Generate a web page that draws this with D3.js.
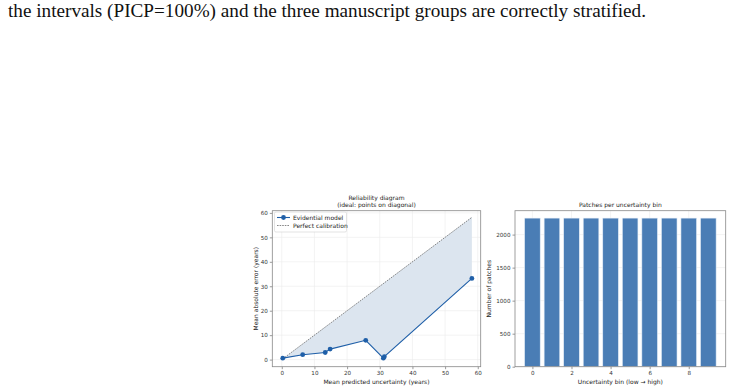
<!DOCTYPE html>
<html lang="en">
<head>
  <meta charset="UTF-8">
  <title>Reliability diagram</title>
  <script src="https://d3js.org/d3.v7.min.js"></script>
  <style>
    body { margin: 0; background: #fff; }
    svg { display: block; }
    .tick text { font-family: "DejaVu Sans", sans-serif; font-size: 5.6px; fill: #333; }
    .lbl { font-family: "DejaVu Sans", sans-serif; font-size: 6px; fill: #222; }
    .top { font-family: "Liberation Serif", "Times New Roman", serif; font-size: 19.2px; fill: #111; }
  </style>
</head>
<body>
  <svg id="fig" width="732" height="391"></svg>
  <script>
    // data
    const predUnc = [0.3, 6.4, 13.3, 14.8, 25.7, 31.1, 31.4, 58.2];
    const meanErr = [0.6, 2.0, 2.9, 4.3, 7.9, 0.6, 1.2, 33.2];
    const bins = [0, 1, 2, 3, 4, 5, 6, 7, 8, 9];
    const binCounts = [2250, 2250, 2250, 2250, 2250, 2250, 2250, 2250, 2250, 2250];
    const relXTicks = [0, 10, 20, 30, 40, 50, 60];
    const relYTicks = [0, 10, 20, 30, 40, 50, 60];
    const barXTicks = [0, 2, 4, 6, 8];
    const barYTicks = [0, 500, 1000, 1500, 2000];

    const svg = d3.select("#fig");
    const lineBlue = "#1f5fa8";

    svg.append("text")
      .attr("class", "top")
      .attr("x", 8).attr("y", 17)
      .text("the intervals (PICP=100%) and the three manuscript groups are correctly stratified.");

    function frame(g, x, y, xt, yt, box) {
      // grid
      g.append("g").selectAll("line").data(xt).join("line")
        .attr("x1", d => x(d)).attr("x2", d => x(d))
        .attr("y1", box.top).attr("y2", box.bottom)
        .attr("stroke", "#ebebeb").attr("stroke-width", 0.6);
      g.append("g").selectAll("line").data(yt).join("line")
        .attr("x1", box.left).attr("x2", box.right)
        .attr("y1", d => y(d)).attr("y2", d => y(d))
        .attr("stroke", "#ebebeb").attr("stroke-width", 0.6);
    }

    function axes(g, x, y, xt, yt, box) {
      g.append("g").attr("transform", `translate(0,${box.bottom})`)
        .call(d3.axisBottom(x).tickValues(xt).tickFormat(d3.format("d")).tickSize(2.5).tickPadding(2).tickSizeOuter(0))
        .call(a => a.select(".domain").remove())
        .call(a => a.selectAll("line").attr("stroke", "#555").attr("stroke-width", 0.6));
      g.append("g").attr("transform", `translate(${box.left},0)`)
        .call(d3.axisLeft(y).tickValues(yt).tickFormat(d3.format("d")).tickSize(2.5).tickPadding(2).tickSizeOuter(0))
        .call(a => a.select(".domain").remove())
        .call(a => a.selectAll("line").attr("stroke", "#555").attr("stroke-width", 0.6));
      g.append("rect")
        .attr("x", box.left).attr("y", box.top)
        .attr("width", box.right - box.left).attr("height", box.bottom - box.top)
        .attr("fill", "none").attr("stroke", "#888").attr("stroke-width", 0.8);
    }

    // ---------- reliability diagram ----------
    const b1 = { left: 272.3, right: 480.7, top: 210.7, bottom: 366.7 };
    const x1 = d3.scaleLinear().domain([-2.9, 60.9]).range([b1.left, b1.right]);
    const y1 = d3.scaleLinear().domain([-2.9, 60.9]).range([b1.bottom, b1.top]);
    const g1 = svg.append("g");
    frame(g1, x1, y1, relXTicks, relYTicks, b1);

    const pts = predUnc.map((u, i) => ({ u: u, e: meanErr[i] }));
    g1.append("path")
      .datum(pts)
      .attr("fill", "#dce5ef")
      .attr("d", d3.area().x(d => x1(d.u)).y0(d => y1(d.u)).y1(d => y1(d.e)));

    const lo = d3.min(predUnc), hi = d3.max(predUnc);
    g1.append("line")
      .attr("x1", x1(lo)).attr("y1", y1(lo))
      .attr("x2", x1(hi)).attr("y2", y1(hi))
      .attr("stroke", "#555").attr("stroke-width", 0.7)
      .attr("stroke-dasharray", "1.6,1");

    g1.append("path")
      .datum(pts)
      .attr("fill", "none").attr("stroke", lineBlue).attr("stroke-width", 1.1)
      .attr("d", d3.line().x(d => x1(d.u)).y(d => y1(d.e)));
    g1.append("g").selectAll("circle").data(pts).join("circle")
      .attr("cx", d => x1(d.u)).attr("cy", d => y1(d.e)).attr("r", 2.4)
      .attr("fill", lineBlue);

    axes(g1, x1, y1, relXTicks, relYTicks, b1);

    // legend
    const lg = g1.append("g");
    lg.append("rect").attr("x", 274.5).attr("y", 212).attr("width", 72).attr("height", 20)
      .attr("rx", 1.5).attr("fill", "#fff").attr("fill-opacity", 0.85)
      .attr("stroke", "#d0d0d0").attr("stroke-width", 0.6);
    lg.append("line").attr("x1", 277).attr("x2", 290).attr("y1", 217.5).attr("y2", 217.5)
      .attr("stroke", lineBlue).attr("stroke-width", 1.1);
    lg.append("circle").attr("cx", 283.5).attr("cy", 217.5).attr("r", 2.4).attr("fill", lineBlue);
    lg.append("line").attr("x1", 277).attr("x2", 290).attr("y1", 225.5).attr("y2", 225.5)
      .attr("stroke", "#555").attr("stroke-width", 0.7).attr("stroke-dasharray", "1.6,1");
    lg.append("text").attr("class", "lbl").attr("x", 293).attr("y", 219.6).text("Evidential model");
    lg.append("text").attr("class", "lbl").attr("x", 293).attr("y", 227.6).text("Perfect calibration");

    g1.append("text").attr("class", "lbl").attr("text-anchor", "middle")
      .attr("x", (b1.left + b1.right) / 2).attr("y", 199.5).text("Reliability diagram");
    g1.append("text").attr("class", "lbl").attr("text-anchor", "middle")
      .attr("x", (b1.left + b1.right) / 2).attr("y", 207).text("(ideal: points on diagonal)");
    g1.append("text").attr("class", "lbl").attr("text-anchor", "middle")
      .attr("x", (b1.left + b1.right) / 2).attr("y", 383.5).text("Mean predicted uncertainty (years)");
    g1.append("text").attr("class", "lbl").attr("text-anchor", "middle")
      .attr("transform", `translate(257.5,${(b1.top + b1.bottom) / 2}) rotate(-90)`)
      .text("Mean absolute error (years)");

    // ---------- patches per bin ----------
    const b2 = { left: 515, right: 725.7, top: 210.7, bottom: 366.7 };
    const x2 = d3.scaleLinear().domain([-0.89, 9.89]).range([b2.left, b2.right]);
    const y2 = d3.scaleLinear().domain([0, 2362]).range([b2.bottom, b2.top]);
    const g2 = svg.append("g");
    frame(g2, x2, y2, barXTicks, barYTicks, b2);

    g2.append("g").selectAll("rect").data(bins).join("rect")
      .attr("x", d => x2(d - 0.4)).attr("width", x2(0.8) - x2(0))
      .attr("y", (d, i) => y2(binCounts[i])).attr("height", (d, i) => y2(0) - y2(binCounts[i]))
      .attr("fill", "#4a7db5").attr("stroke", "#e6eef7").attr("stroke-width", 0.6);

    axes(g2, x2, y2, barXTicks, barYTicks, b2);

    g2.append("text").attr("class", "lbl").attr("text-anchor", "middle")
      .attr("x", (b2.left + b2.right) / 2).attr("y", 207).text("Patches per uncertainty bin");
    g2.append("text").attr("class", "lbl").attr("text-anchor", "middle")
      .attr("x", (b2.left + b2.right) / 2).attr("y", 383.5).text("Uncertainty bin (low → high)");
    g2.append("text").attr("class", "lbl").attr("text-anchor", "middle")
      .attr("transform", `translate(491,${(b2.top + b2.bottom) / 2}) rotate(-90)`)
      .text("Number of patches");
  </script>
</body>
</html>
